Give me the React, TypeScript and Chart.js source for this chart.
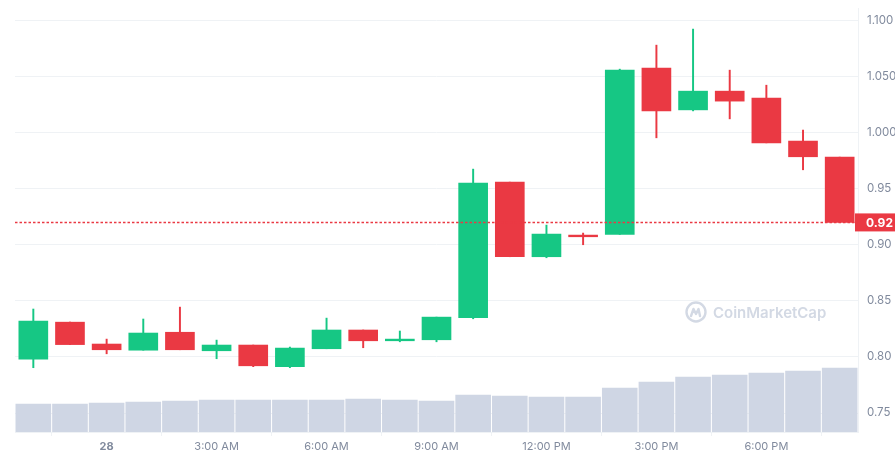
import React, { useEffect, useRef } from "react";
import { Chart, registerables } from "chart.js";

Chart.register(...registerables);

const categories = ["10:00 PM", "11:00 PM", "28", "1:00 AM", "2:00 AM", "3:00 AM", "4:00 AM", "5:00 AM", "6:00 AM", "7:00 AM", "8:00 AM", "9:00 AM", "10:00 AM", "11:00 AM", "12:00 PM", "1:00 PM", "2:00 PM", "3:00 PM", "4:00 PM", "5:00 PM", "6:00 PM", "7:00 PM", "8:00 PM"];
const xTickLabels = ["28", "3:00 AM", "6:00 AM", "9:00 AM", "12:00 PM", "3:00 PM", "6:00 PM"];

const openValues = [0.798, 0.831, 0.8115, 0.806, 0.822, 0.8055, 0.8106, 0.7913, 0.8073, 0.824, 0.8144, 0.8153, 0.8349, 0.9558, 0.8893, 0.9086, 0.9092, 1.0574, 1.0202, 1.0369, 1.0307, 0.9924, 0.9781];
const closeValues = [0.832, 0.811, 0.8064, 0.8213, 0.8064, 0.8106, 0.7921, 0.8079, 0.824, 0.8144, 0.8159, 0.8355, 0.9549, 0.8893, 0.9095, 0.9071, 1.0556, 1.0193, 1.0369, 1.028, 0.9908, 0.9784, 0.9199];
const highValues = [0.8427, 0.8311, 0.8159, 0.8338, 0.8444, 0.815, 0.8106, 0.8088, 0.8346, 0.824, 0.8231, 0.8355, 0.9674, 0.9558, 0.9175, 0.9104, 1.0565, 1.0779, 1.0922, 1.0556, 1.0422, 1.0022, 0.9781];
const lowValues = [0.7904, 0.811, 0.8028, 0.806, 0.8064, 0.7984, 0.7913, 0.7904, 0.8073, 0.8082, 0.8135, 0.8135, 0.834, 0.8893, 0.8884, 0.9, 0.9092, 0.9953, 1.0193, 1.0122, 0.9908, 0.9668, 0.9199];
const volumeValues = [28.3, 28.3, 29.3, 30.3, 31.3, 32.3, 32.3, 32.3, 32.3, 33.3, 32.3, 31.3, 37.3, 36.3, 35.3, 35.3, 44.3, 50.3, 55.3, 57.3, 59.3, 61.3, 64.3];

const yTickValues = [0.75, 0.8, 0.85, 0.9, 0.95, 1.0, 1.05, 1.1];
const yTickLabels = ["0.75", "0.80", "0.85", "0.90", "0.95", "1.000", "1.050", "1.100"];

const GREEN = "#16c784";
const RED = "#ea3943";
const GRID = "#eff2f5";
const TEXT = "#808a9d";
const FONT = "Inter, 'Open Sans', sans-serif";

const candleColors = openValues.map((o, i) => (closeValues[i] >= o ? GREEN : RED));

const pricePlugin = {
  id: "pricePlugin",
  beforeDatasetsDraw(chart: any) {
    const { ctx, chartArea } = chart;
    ctx.save();
    const cx = chartArea.left + 681;
    const cy = chartArea.top + 304;
    ctx.strokeStyle = "#d3d9e4";
    ctx.lineWidth = 2.4;
    ctx.lineJoin = "round";
    ctx.lineCap = "round";
    ctx.beginPath();
    ctx.arc(cx, cy, 9.5, 0, Math.PI * 2);
    ctx.stroke();
    ctx.beginPath();
    ctx.moveTo(cx - 5, cy + 4);
    ctx.lineTo(cx - 2.5, cy - 3);
    ctx.lineTo(cx, cy + 2);
    ctx.lineTo(cx + 2.5, cy - 3);
    ctx.lineTo(cx + 4, cy + 4);
    ctx.stroke();
    ctx.fillStyle = "#d3d9e4";
    ctx.font = "600 15px " + FONT;
    ctx.textBaseline = "middle";
    ctx.textAlign = "left";
    ctx.fillText("CoinMarketCap", cx + 17, cy + 1);
    ctx.restore();
  },
  afterDatasetsDraw(chart: any) {
    const { ctx, chartArea, scales } = chart;
    const last = closeValues[closeValues.length - 1];
    const y = scales.y.getPixelForValue(last);
    ctx.save();
    ctx.strokeStyle = RED;
    ctx.lineWidth = 1.5;
    ctx.setLineDash([2.5, 2]);
    ctx.beginPath();
    ctx.moveTo(chartArea.left, y);
    ctx.lineTo(chartArea.right, y);
    ctx.stroke();
    ctx.setLineDash([]);
    ctx.fillStyle = RED;
    ctx.fillRect(chartArea.right - 3, y - 9, chart.width - chartArea.right + 3, 18);
    ctx.fillStyle = "#ffffff";
    ctx.font = "bold 12px " + FONT;
    ctx.textBaseline = "middle";
    ctx.textAlign = "left";
    ctx.fillText(last.toFixed(2), chartArea.right + 8, y + 0.5);
    ctx.restore();
  },
};

export default function App() {
  const ref = useRef<HTMLCanvasElement | null>(null);
  useEffect(() => {
    document.body.style.margin = "0";
    const chart = new Chart(ref.current as HTMLCanvasElement, {
      type: "bar",
      data: {
        labels: categories,
        datasets: [
          {
            label: "Body",
            data: openValues.map((o, i) => [o, closeValues[i]]),
            backgroundColor: candleColors,
            barThickness: 29,
            grouped: false,
            borderSkipped: false,
            yAxisID: "y",
            order: 1,
          } as any,
          {
            label: "Wick",
            data: lowValues.map((l, i) => [l, highValues[i]]),
            backgroundColor: candleColors,
            barThickness: 1.3,
            grouped: false,
            borderSkipped: false,
            yAxisID: "y",
            order: 2,
          } as any,
          {
            label: "Volume",
            data: volumeValues,
            backgroundColor: "#cfd6e4",
            barPercentage: 0.972,
            categoryPercentage: 1,
            grouped: false,
            yAxisID: "yVol",
            order: 3,
          } as any,
        ],
      },
      options: {
        animation: false,
        responsive: false,
        layout: { padding: { left: 15, top: 8, right: 0, bottom: 0 } },
        plugins: { legend: { display: false }, tooltip: { enabled: false } },
        scales: {
          x: {
            offset: true,
            grid: {
              drawOnChartArea: false,
              drawTicks: true,
              tickLength: 4,
              color: GRID,
            },
            border: { display: true, color: GRID },
            ticks: {
              autoSkip: false,
              maxRotation: 0,
              padding: 4,
              color: TEXT,
              font: (ctx: any) => ({
                family: FONT,
                size: 11,
                weight: ctx.tick && ctx.tick.label === "28" ? "bold" : "normal",
              }),
              callback: function (this: any, value: any) {
                const lbl = categories[value as number];
                return xTickLabels.includes(lbl) ? lbl : null;
              },
            },
            afterFit: (s: any) => {
              s.height = 29;
              s.paddingLeft = 0;
              s.paddingRight = 0;
            },
          },
          y: {
            position: "right",
            min: 0.7331,
            max: 1.111,
            grid: { color: GRID, drawTicks: false },
            border: { display: true, color: GRID },
            afterBuildTicks: (s: any) => {
              s.ticks = yTickValues.map((v) => ({ value: v }));
            },
            ticks: {
              padding: 9,
              color: TEXT,
              font: { family: FONT, size: 11.5 },
              callback: (value: any) => {
                const idx = yTickValues.findIndex((v) => Math.abs(v - value) < 1e-6);
                return idx >= 0 ? yTickLabels[idx] : "";
              },
            },
            afterFit: (s: any) => {
              s.width = 37;
              s.paddingTop = 0;
              s.paddingBottom = 0;
            },
          },
          yVol: {
            display: false,
            min: 0,
            max: 424,
          },
        },
      },
      plugins: [pricePlugin],
    } as any);
    return () => chart.destroy();
  }, []);
  return (
    <div style={{ position: "fixed", left: 0, top: 0, width: 895, height: 461, background: "#fff" }}>
      <canvas ref={ref} width={895} height={461} style={{ display: "block" }} />
    </div>
  );
}
